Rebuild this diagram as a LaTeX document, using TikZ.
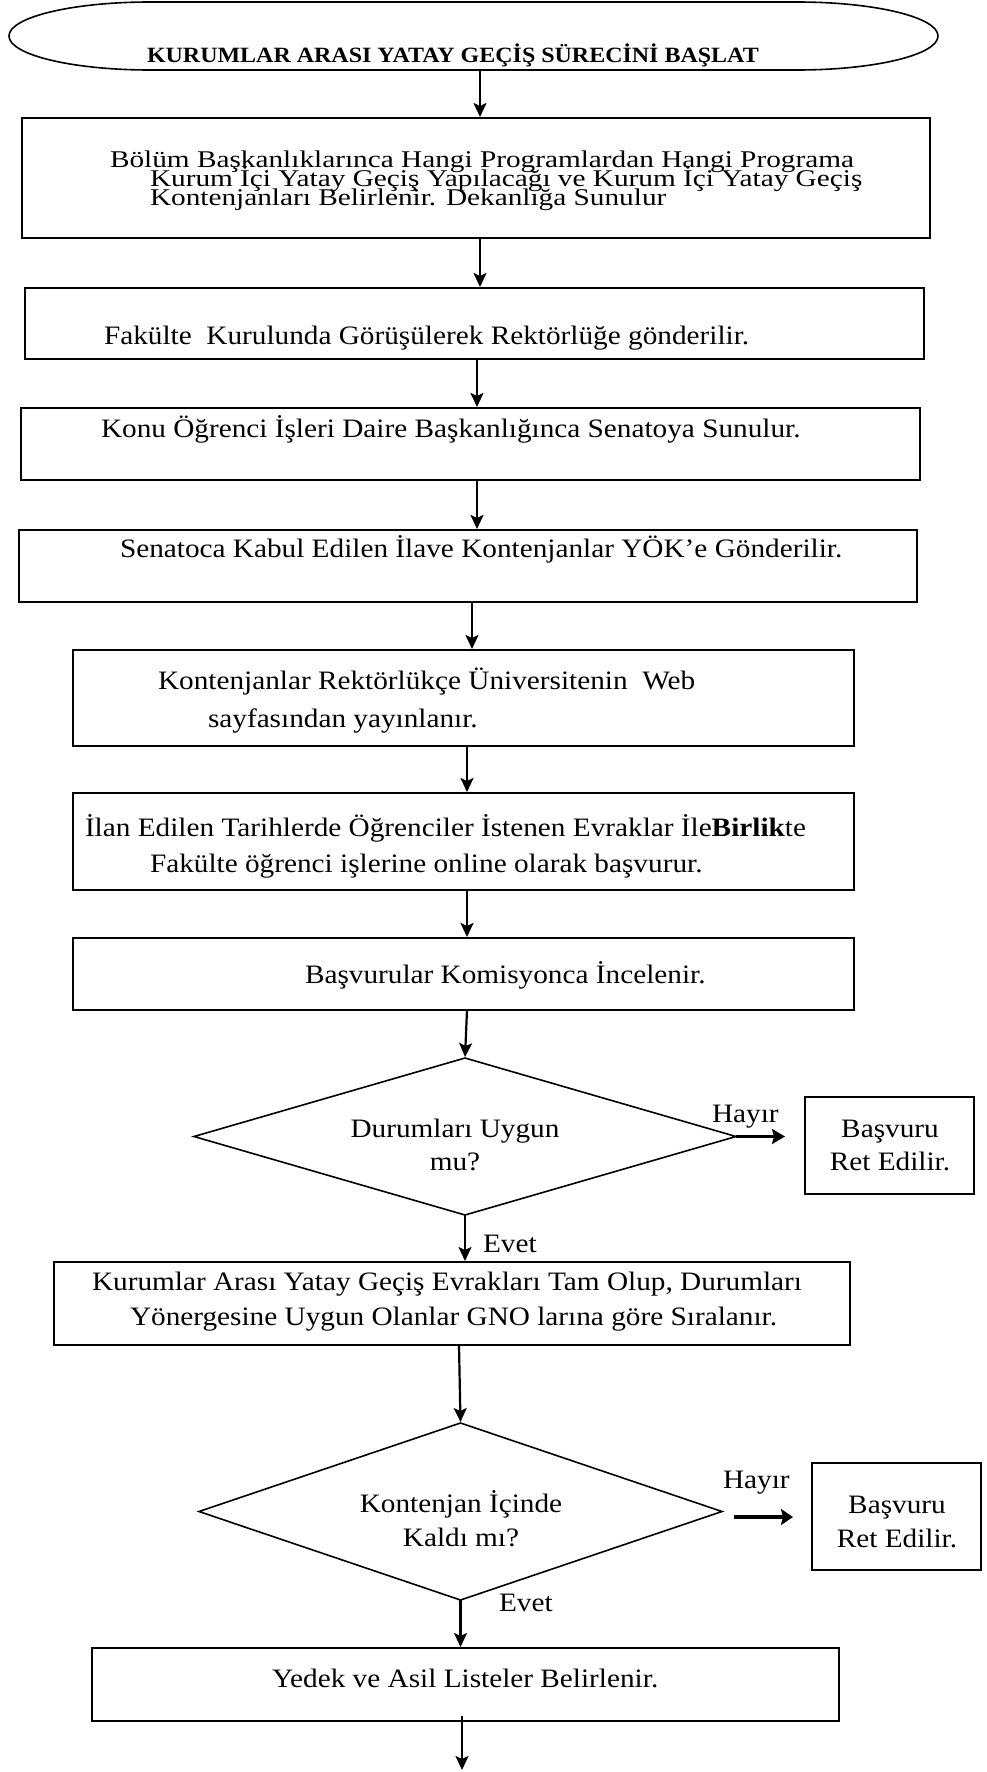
\documentclass[tikz,border=0pt]{standalone}
\usepackage{fontspec}
\setmainfont{Liberation Serif}[FakeStretch=1.1]
\newfontfamily\tightfont{Liberation Serif}[FakeStretch=1.22]
\usetikzlibrary{arrows.meta,shapes.geometric}
\begin{document}
\begin{tikzpicture}[x=1pt,y=-1pt,
  box/.style={draw,line width=1.6pt,rectangle,inner sep=0pt,outer sep=0pt},
  decision/.style={draw,line width=1.6pt,diamond,inner sep=0pt,outer sep=0pt},
  txt/.style={inner sep=0pt,outer sep=0pt,anchor=base west,font=\fontsize{26.6}{30}\selectfont},
  ctxt/.style={txt,anchor=base},
  densetxt/.style={txt,font=\tightfont\fontsize{24}{26}\selectfont},
  arr/.style={draw,line width=2.2pt,shorten >=1pt,-{Stealth[length=14pt,width=13pt,inset=3pt]}},
  noarr/.style={draw,line width=2.4pt,-{Stealth[length=13pt,width=15pt,inset=2pt]}},
  noarrthick/.style={draw,line width=4pt,-{Stealth[length=12pt,width=16pt,inset=2pt]}}]

\useasboundingbox (0,0) rectangle (986,1772);
\fill[white] (0,0) rectangle (986,1772);

% start terminal: flat top and bottom with elliptical ends
\node[inner sep=0pt,outer sep=0pt,minimum width=929pt,minimum height=68pt] (start) at (473.5,36) {};
\draw[line width=1.6pt] (150,2) arc[start angle=270,end angle=90,x radius=141,y radius=34]
  -- (797,70) arc[start angle=90,end angle=-90,x radius=141,y radius=34] -- cycle;
\node[txt,font=\fontsize{21.8}{24}\selectfont\bfseries] (ttl) at (147,62) {KURUMLAR ARASI YATAY GEÇİŞ SÜRECİNİ BAŞLAT};

% process boxes
\node[box,minimum width=908pt,minimum height=120pt] (b1) at (476,178) {};
\node[box,minimum width=899pt,minimum height=71pt]  (b2) at (474.5,323.5) {};
\node[box,minimum width=899pt,minimum height=72pt]  (b3) at (470.5,444) {};
\node[box,minimum width=898pt,minimum height=72pt]  (b4) at (468,566) {};
\node[box,minimum width=781pt,minimum height=96pt]  (b5) at (463.5,698) {};
\node[box,minimum width=781pt,minimum height=97pt]  (b6) at (463.5,841.5) {};
\node[box,minimum width=781pt,minimum height=72pt]  (b7) at (463.5,974) {};
\node[decision,minimum width=542pt,minimum height=157pt] (d1) at (465,1136.5) {};
\node[box,minimum width=169pt,minimum height=97pt]  (r1) at (889.5,1145.5) {};
\node[box,minimum width=796pt,minimum height=83pt]  (b8) at (452,1303.5) {};
\node[decision,minimum width=523pt,minimum height=177pt] (d2) at (460.5,1511.5) {};
\node[box,minimum width=169pt,minimum height=107pt] (r2) at (896.5,1516.5) {};
\node[box,minimum width=747pt,minimum height=73pt]  (b9) at (465.5,1684.5) {};

% texts
\node[densetxt] (t1a) at (110,167) {Bölüm Başkanlıklarınca Hangi Programlardan Hangi Programa};
\node[densetxt] (t1b) at (150,186) {Kurum İçi Yatay Geçiş Yapılacağı ve Kurum İçi Yatay Geçiş};
\node[densetxt] (t1c) at (150,205) {Kontenjanları Belirlenir. Dekanlığa Sunulur};
\node[txt] (t2) at (104,344) {Fakülte\ \ Kurulunda Görüşülerek Rektörlüğe gönderilir.};
\node[txt] (t3) at (101,437) {Konu Öğrenci İşleri Daire Başkanlığınca Senatoya Sunulur.};
\node[txt] (t4) at (120,557) {Senatoca Kabul Edilen İlave Kontenjanlar YÖK’e Gönderilir.};
\node[txt] (t5a) at (158,689) {Kontenjanlar Rektörlükçe Üniversitenin\ \ Web};
\node[txt] (t5b) at (208,727) {sayfasından yayınlanır.};
\node[txt] (t6a) at (85,836) {İlan Edilen Tarihlerde Öğrenciler İstenen Evraklar İle\textbf{Birlik}te};
\node[txt] (t6b) at (150,872) {Fakülte öğrenci işlerine online olarak başvurur.};
\node[txt] (t7) at (305,983) {Başvurular Komisyonca İncelenir.};
\node[ctxt] (q1a) at (455,1137) {Durumları Uygun};
\node[ctxt] (q1b) at (455,1170) {mu?};
\node[txt] (no1) at (712,1122) {Hayır};
\node[ctxt] (r1a) at (890,1137) {Başvuru};
\node[ctxt] (r1b) at (890,1170) {Ret Edilir.};
\node[txt] (yes1) at (483,1252) {Evet};
\node[txt] (t8a) at (92,1290) {Kurumlar Arası Yatay Geçiş Evrakları Tam Olup, Durumları};
\node[txt] (t8b) at (130,1325) {Yönergesine Uygun Olanlar GNO larına göre Sıralanır.};
\node[ctxt] (q2a) at (461,1512) {Kontenjan İçinde};
\node[ctxt] (q2b) at (461,1546) {Kaldı mı?};
\node[txt] (no2) at (723,1488) {Hayır};
\node[ctxt] (r2a) at (897,1513) {Başvuru};
\node[ctxt] (r2b) at (897,1547) {Ret Edilir.};
\node[txt] (yes2) at (499,1611) {Evet};
\node[txt] (t9) at (272,1687) {Yedek ve Asil Listeler Belirlenir.};

% connector columns
\coordinate (c1) at (480,0);
\coordinate (c2) at (477,0);
\coordinate (c3) at (472,0);
\coordinate (c4) at (467,0);
\coordinate (c5) at (459,0);
\coordinate (c6) at (462,0);
\coordinate (h2) at (734,1517);
\coordinate (h2e) at (793,1517);
\coordinate (fin) at (462,1771);

\draw[arr] (start.south -| c1) -- (b1.north -| c1);
\draw[arr] (b1.south -| c1) -- (b2.north -| c1);
\draw[arr] (b2.south -| c2) -- (b3.north -| c2);
\draw[arr] (b3.south -| c2) -- (b4.north -| c2);
\draw[arr] (b4.south -| c3) -- (b5.north -| c3);
\draw[arr] (b5.south -| c4) -- (b6.north -| c4);
\draw[arr] (b6.south -| c4) -- (b7.north -| c4);
\draw[arr] (b7.south -| c4) -- (d1.north);
\draw[arr] (d1.south) -- (b8.north -| d1.south);
\draw[arr] (b8.south -| c5) -- (d2.north);
\draw[arr] (d2.south) -- (b9.north -| d2.south);
\draw[arr] ([yshift=5pt]b9.south -| c6) -- (fin);
\draw[noarr] (d1.east) -- ([xshift=-20pt]r1.west |- d1.east);
\draw[noarrthick] (h2) -- (h2e);
\end{tikzpicture}
\end{document}
